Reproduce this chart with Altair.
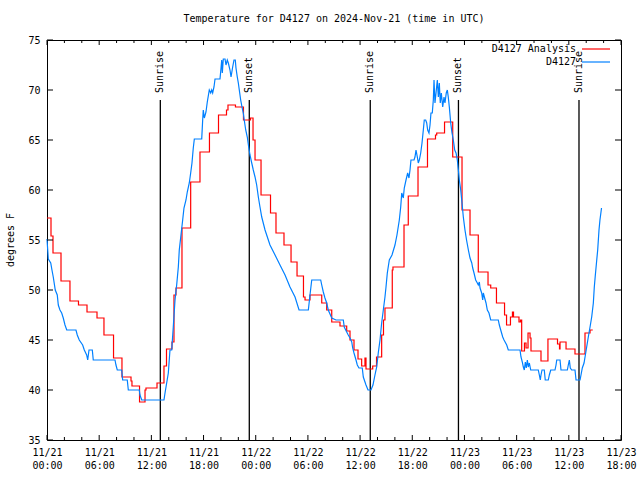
import altair as alt
import pandas as pd

TITLE = "Temperature for D4127 on 2024-Nov-21 (time in UTC)"
Y_TITLE = "degrees F"
SERIES = ["D4127 Analysis", "D4127"]
COLORS = ["#ff0000", "#0080ff"]

# hours after 2024-11-21 00:00 UTC
analysis_hours = [0.00, 0.46, 0.69, 1.61, 2.64, 3.62, 4.60, 5.75, 6.55, 7.65, 8.62, 9.66, 9.77,
                  10.64, 11.27, 11.38, 12.65, 13.45, 13.74, 14.37, 14.60, 14.83, 15.52, 16.52,
                  17.59, 18.68, 19.72, 20.64, 20.81, 21.67, 22.59, 23.40, 23.69, 23.92, 24.61,
                  25.70, 26.33, 27.25, 28.06, 28.75, 29.49, 29.67, 30.24, 31.59, 32.16, 32.74,
                  33.69, 34.46, 34.84, 35.30, 35.76, 36.18, 36.56, 36.68, 37.45, 37.89, 38.48,
                  38.69, 38.86, 39.70, 39.78, 41.05, 41.54, 42.66, 43.75, 44.67, 44.81, 45.71,
                  46.65, 47.72, 48.64, 49.59, 50.71, 51.02, 51.68, 52.61, 52.84, 53.29, 53.52,
                  53.64, 54.27, 54.44, 54.58, 54.90, 55.08, 55.31, 55.54, 55.65, 56.80, 57.60,
                  58.70, 58.93, 58.99, 59.68, 60.71, 61.86, 62.44, 62.75]
analysis_temps = [57.2, 55.4, 53.7, 50.9, 48.9, 48.5, 47.8, 47.2, 45.5, 43.2, 41.3, 40.9, 40.4,
                  38.8, 40.0, 40.2, 40.7, 42.4, 44.1, 44.8, 49.5, 50.2, 56.2, 60.8,
                  63.8, 65.7, 67.5, 68.0, 68.5, 68.3, 67.0, 67.2, 65.0, 63.0, 59.5,
                  57.7, 55.7, 54.5, 52.8, 51.4, 49.3, 49.0, 49.5, 48.7, 48.0, 46.8,
                  46.4, 45.9, 45.0, 44.0, 43.1, 42.4, 43.2, 42.1, 42.4, 43.3, 45.5,
                  47.0, 48.2, 52.0, 52.3, 56.5, 59.4, 62.3, 65.1, 65.5, 65.7, 66.8,
                  63.3, 58.0, 55.5, 51.8, 50.5, 50.2, 48.7, 47.5, 46.5, 47.3, 47.8,
                  47.3, 46.8, 47.0, 43.9, 44.7, 44.2, 45.7, 45.2, 43.9, 42.9, 45.1,
                  44.6, 44.1, 44.8, 44.1, 43.6, 45.7, 46.0, 46.0]

obs_hours = [0.00, 0.15, 0.43, 0.57, 0.72, 0.95, 1.18, 1.30, 1.49, 1.69, 1.87, 2.07, 2.27, 3.33,
             3.48, 3.71, 4.10, 4.29, 4.56, 4.68, 4.83, 5.21, 5.32, 7.82, 7.93, 8.08, 8.59, 8.70,
             9.23, 9.35, 10.61, 10.69, 10.89, 13.45, 13.57, 13.76, 13.95, 14.14, 14.34, 14.52,
             14.72, 14.91, 15.10, 15.21, 15.60, 15.75, 15.98, 16.13, 16.36, 16.52, 16.67, 16.82,
             16.94, 17.79, 17.90, 17.97, 18.09, 18.28, 18.43, 18.66, 18.82, 18.94, 19.05, 19.20,
             19.32, 19.89, 20.01, 20.09, 20.16, 20.27, 20.47, 20.58, 20.73, 20.85, 21.04, 21.16,
             21.35, 21.50, 21.65, 21.73, 21.88, 22.00, 22.11, 22.27, 22.42, 22.57, 22.73, 22.85,
             23.03, 23.19, 23.34, 23.54, 23.72, 23.92, 24.11, 24.30, 24.49, 24.69, 25.07, 25.64,
             26.22, 26.79, 27.37, 27.94, 28.52, 28.98, 30.05, 30.24, 30.44, 31.47, 31.59, 31.77,
             31.96, 32.16, 32.34, 32.54, 32.74, 33.23, 34.07, 34.18, 34.46, 34.64, 34.84, 35.04,
             35.15, 35.30, 35.53, 35.68, 35.87, 36.25, 36.37, 36.68, 36.91, 37.25, 37.48, 37.71,
             37.91, 38.09, 38.29, 38.48, 38.67, 38.86, 38.98, 39.13, 39.36, 39.67, 40.01, 40.24,
             40.51, 40.67, 40.79, 40.97, 41.08, 41.28, 41.47, 41.62, 41.74, 41.85, 42.20, 42.31,
             42.43, 42.58, 42.69, 42.81, 42.97, 43.12, 43.27, 43.38, 43.54, 43.66, 43.77, 43.92,
             44.04, 44.15, 44.30, 44.42, 44.50, 44.61, 44.73, 44.88, 45.00, 45.11, 45.22, 45.34,
             45.50, 45.65, 45.76, 45.91, 46.03, 46.14, 46.26, 46.42, 46.57, 46.72, 46.88, 47.03,
             47.18, 47.30, 47.41, 47.57, 47.72, 47.87, 48.06, 48.24, 48.45, 48.64, 48.84, 48.95,
             49.10, 49.29, 49.48, 49.59, 49.71, 49.79, 49.98, 50.10, 50.17, 50.29, 50.48, 50.63,
             50.82, 51.02, 51.89, 52.01, 52.17, 52.40, 52.55, 52.86, 53.04, 54.39, 54.50, 54.65,
             54.77, 54.88, 55.00, 55.11, 55.23, 55.34, 55.46, 55.62, 56.49, 56.61, 56.72, 56.80,
             56.92, 57.18, 57.29, 57.64, 57.76, 57.92, 58.41, 58.53, 58.61, 58.99, 59.10, 59.83,
             59.94, 60.06, 60.17, 60.33, 60.71, 60.83, 61.29, 61.40, 61.55, 61.75, 61.94, 62.24,
             62.44, 62.63, 62.82, 62.93, 63.05, 63.21, 63.32, 63.47, 63.58, 63.76]
obs_temps = [55.1, 53.1, 52.7, 52.0, 51.3, 50.0, 49.5, 48.5, 48.0, 47.7, 47.2, 46.5, 46.0, 46.0,
             45.5, 45.0, 44.5, 44.0, 43.5, 43.0, 44.0, 44.0, 43.0, 43.0, 42.5, 42.0, 42.0, 41.0,
             41.0, 40.0, 40.0, 39.5, 39.0, 39.0, 39.7, 40.7, 41.7, 44.0, 44.0, 46.3,
             49.0, 50.5, 52.3, 54.0, 57.0, 58.2, 59.0, 59.8, 60.7, 61.7, 62.7, 64.2,
             65.1, 65.1, 67.0, 68.0, 67.2, 67.8, 68.8, 70.0, 69.7, 70.0, 69.7, 70.3,
             71.1, 71.1, 72.2, 73.0, 71.7, 73.1, 73.1, 72.5, 73.0, 72.7, 72.0, 71.3,
             72.3, 73.0, 73.0, 72.2, 71.3, 70.7, 70.0, 69.0, 68.3, 67.7, 66.7, 66.0,
             65.3, 64.3, 63.5, 62.7, 62.0, 61.3, 60.5, 59.3, 58.3, 57.3, 56.0, 54.5,
             53.5, 52.5, 51.5, 50.3, 49.3, 48.0, 48.0, 49.5, 51.0, 51.0, 50.5, 49.8,
             49.2, 48.7, 48.0, 47.6, 47.2, 47.0, 47.0, 46.3, 45.8, 45.5, 45.2, 44.8,
             44.2, 43.7, 43.0, 42.5, 42.2, 42.2, 41.3, 40.5, 40.0, 40.0, 40.5, 41.5,
             42.3, 43.7, 45.0, 46.7, 48.0, 49.3, 50.3, 51.7, 53.0, 53.5, 54.5, 55.5,
             57.0, 58.3, 59.7, 59.2, 60.2, 61.0, 61.7, 61.2, 62.0, 63.0, 63.0, 63.3,
             64.0, 63.3, 62.7, 63.0, 63.7, 64.7, 66.0, 67.0, 67.0, 66.7, 66.0, 65.7,
             66.5, 67.7, 67.7, 69.0, 71.0, 68.7, 69.7, 71.0, 69.3, 70.7, 68.7, 69.7,
             68.3, 69.3, 68.7, 69.7, 70.0, 69.3, 68.3, 66.7, 65.7, 65.0, 64.0, 63.7,
             63.0, 62.0, 61.0, 60.0, 58.7, 57.3, 56.0, 55.0, 54.0, 53.2, 52.7, 52.2,
             51.7, 51.0, 50.7, 50.5, 50.8, 50.2, 49.7, 49.0, 49.7, 49.3, 48.7, 48.0,
             47.7, 47.0, 47.0, 46.5, 46.0, 45.3, 45.0, 44.5, 44.0, 44.0, 43.3, 42.8,
             42.3, 42.0, 42.8, 42.2, 43.0, 42.3, 42.7, 42.0, 42.0, 41.5, 41.0, 41.5,
             42.0, 42.0, 41.0, 41.0, 41.5, 42.0, 42.0, 42.5, 43.0, 43.0, 42.0, 42.0,
             42.5, 43.0, 42.2, 42.0, 42.0, 41.0, 41.0, 41.5, 42.2, 42.7, 43.7, 45.3,
             46.3, 47.3, 48.7, 50.3, 51.5, 53.0, 54.0, 56.0, 57.0, 58.2]

sun_hours = [13.03, 23.26, 37.17, 47.31, 61.17]
sun_labels = ["Sunrise", "Sunset", "Sunrise", "Sunset", "Sunrise"]

x_major = [0, 6, 12, 18, 24, 30, 36, 42, 48, 54, 60, 66]
x_minor = [2, 4, 8, 10, 14, 16, 20, 22, 26, 28, 32, 34, 38, 40, 44, 46, 50, 52, 56, 58, 62, 64]
x_dates = ["11/21", "11/21", "11/21", "11/21", "11/22", "11/22", "11/22", "11/22",
           "11/23", "11/23", "11/23", "11/23"]
x_times = ["00:00", "06:00", "12:00", "18:00", "00:00", "06:00", "12:00", "18:00",
           "00:00", "06:00", "12:00", "18:00"]
y_ticks = [35, 40, 45, 50, 55, 60, 65, 70, 75]

FONT = "DejaVu Sans Mono"
W, H = 574, 400

analysis = pd.DataFrame({"h": analysis_hours, "t": analysis_temps})
obs = pd.DataFrame({"h": obs_hours, "t": obs_temps})
sun = pd.DataFrame({"h": sun_hours, "lab": sun_labels})

xs = alt.Scale(domain=[0, 66], nice=False, zero=False)
ys = alt.Scale(domain=[35, 75], nice=False, zero=False)

label_expr = ("[" + str(x_dates)[1:-1] + "][round(datum.value/6)] ? "
              "[[" + str(x_dates)[1:-1] + "][round(datum.value/6)], "
              "[" + str(x_times)[1:-1] + "][round(datum.value/6)]] : ''")

xaxis = alt.Axis(values=x_major, labelExpr=label_expr, title=None, labelPadding=7,
                 labelBaseline="top", labelLineHeight=13, labelFlush=False, labelOverlap=False)
yaxis = alt.Axis(values=y_ticks, title=None, labelPadding=7, labelFlush=False)

base_lines = alt.Chart(analysis).mark_line(
    interpolate="step-after", color=COLORS[0], strokeWidth=1.2
).encode(
    x=alt.X("h:Q", scale=xs, axis=xaxis),
    y=alt.Y("t:Q", scale=ys, axis=yaxis),
)
obs_line = alt.Chart(obs).mark_line(color=COLORS[1], strokeWidth=1.2).encode(
    x=alt.X("h:Q", scale=xs), y=alt.Y("t:Q", scale=ys)
)

sun_rules = alt.Chart(sun).mark_rule(color="black", strokeWidth=1.3).encode(
    x=alt.X("h:Q", scale=xs), y=alt.value(60), y2=alt.value(H)
)
sun_text = alt.Chart(sun).mark_text(
    angle=270, align="left", baseline="middle", font=FONT, fontSize=10, color="black"
).encode(x=alt.X("h:Q", scale=xs), y=alt.value(53), text="lab:N")

# inward tick marks (gnuplot style)
yt = pd.DataFrame({"t": y_ticks})
xmaj = pd.DataFrame({"h": x_major})
xmin = pd.DataFrame({"h": x_minor})
tick_style = dict(color="black", strokeWidth=1)
yt_left = alt.Chart(yt).mark_rule(**tick_style).encode(
    y=alt.Y("t:Q", scale=ys), x=alt.value(0), x2=alt.value(6))
yt_right = alt.Chart(yt).mark_rule(**tick_style).encode(
    y=alt.Y("t:Q", scale=ys), x=alt.value(W - 6), x2=alt.value(W))
xmaj_b = alt.Chart(xmaj).mark_rule(**tick_style).encode(
    x=alt.X("h:Q", scale=xs), y=alt.value(H - 5), y2=alt.value(H))
xmaj_t = alt.Chart(xmaj).mark_rule(**tick_style).encode(
    x=alt.X("h:Q", scale=xs), y=alt.value(0), y2=alt.value(5))
xmin_b = alt.Chart(xmin).mark_rule(**tick_style).encode(
    x=alt.X("h:Q", scale=xs), y=alt.value(H - 3), y2=alt.value(H))
xmin_t = alt.Chart(xmin).mark_rule(**tick_style).encode(
    x=alt.X("h:Q", scale=xs), y=alt.value(0), y2=alt.value(3))

title = alt.Chart(pd.DataFrame({"s": [TITLE]})).mark_text(
    font=FONT, fontSize=10, align="center", baseline="middle", color="black"
).encode(x=alt.value(W / 2), y=alt.value(-21), text="s:N")
ytitle = alt.Chart(pd.DataFrame({"s": [Y_TITLE]})).mark_text(
    font=FONT, fontSize=10, align="center", baseline="middle", angle=270, color="black"
).encode(x=alt.value(-36), y=alt.value(H / 2), text="s:N")

legend_layers = []
for i, (name, col) in enumerate(zip(SERIES, COLORS)):
    d = pd.DataFrame({"s": [name]})
    legend_layers.append(alt.Chart(d).mark_text(
        font=FONT, fontSize=10, align="right", baseline="middle", color="black"
    ).encode(x=alt.value(529), y=alt.value(9 + 13 * i), text="s:N"))
    legend_layers.append(alt.Chart(d).mark_rule(color=col, strokeWidth=1.2).encode(
        x=alt.value(535), x2=alt.value(563), y=alt.value(9 + 13 * i)))

chart = alt.layer(
    sun_rules, base_lines, obs_line, sun_text,
    yt_left, yt_right, xmaj_b, xmaj_t, xmin_b, xmin_t,
    title, ytitle, *legend_layers
).properties(
    width=W, height=H,
    autosize=alt.AutoSizeParams(type="none"),
    padding={"left": 47, "top": 40, "right": 19, "bottom": 40},
    background="white",
).configure_view(
    stroke="black", strokeWidth=1
).configure_axis(
    labelFont=FONT, labelFontSize=10, labelColor="black", domain=False, ticks=False, grid=False
)

chart.save("out.html", embed_options={"renderer": "svg", "actions": False})
